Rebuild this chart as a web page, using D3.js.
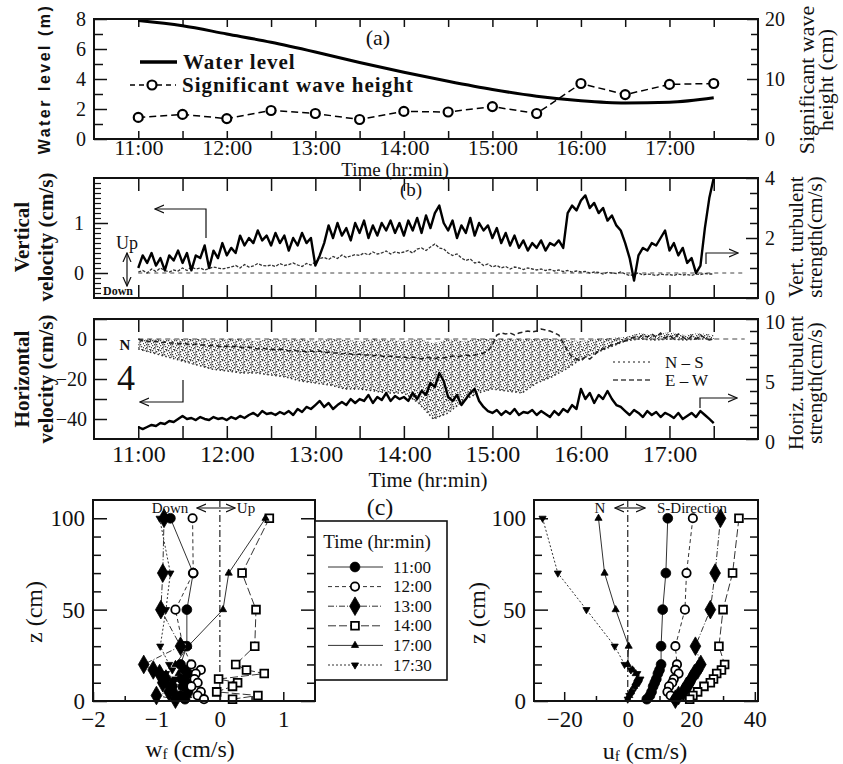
<!DOCTYPE html>
<html><head><meta charset="utf-8">
<script src="https://cdn.jsdelivr.net/npm/d3@7"></script>
<style>
body{margin:0;background:#fff;}
</style></head><body>
<svg id="chart" width="843" height="764" xmlns="http://www.w3.org/2000/svg"></svg>
<script>
// ================= DATA =================
const halfHourTicks = [11,11.5,12,12.5,13,13.5,14,14.5,15,15.5,16,16.5,17,17.5];
const hourTicks = [11,12,13,14,15,16,17];
const hourLabels = ["11:00","12:00","13:00","14:00","15:00","16:00","17:00"];

// panel (a)
const waveTimes = [11,11.5,12,12.5,13,13.5,14,14.5,15,15.5,16,16.5,17,17.5];
const waterLevel = [7.9,7.55,7.0,6.45,5.8,5.1,4.45,3.85,3.3,2.85,2.55,2.4,2.45,2.75];
const waveHeight = [3.6,4.1,3.4,4.75,4.25,3.25,4.6,4.5,5.4,4.25,9.25,7.4,9.1,9.25];

// time series sampled every 3 minutes starting 11:00
const seriesStart = 11;
const seriesStepMin = 3;

// panel (b): vertical turbulent strength (cm/s, right axis)
const vertTurb = [
 1.0,1.42,1.17,1.5,1.08,1.33,0.92,1.42,1.25,1.58,
 1.17,1.5,0.92,1.42,1.33,1.75,1.0,1.58,1.33,1.83,
 1.42,1.67,1.5,2.08,1.75,2.0,1.83,2.25,1.92,2.08,
 1.75,2.17,1.83,2.08,1.58,2.0,1.75,2.17,1.83,2.0,
 1.08,1.42,1.83,2.42,2.0,2.5,2.08,2.33,1.92,2.5,
 2.17,2.58,2.0,2.42,2.08,2.5,2.25,2.58,2.17,2.5,
 2.08,2.58,2.25,2.67,2.17,2.75,2.33,2.83,3.08,2.5,
 2.25,2.58,2.0,2.42,2.17,2.67,2.08,2.5,2.25,2.42,
 2.0,2.33,1.83,2.17,1.75,2.08,1.67,1.92,1.58,1.83,
 1.67,1.92,1.58,1.83,1.75,1.92,1.67,2.83,3.08,2.92,
 3.25,3.42,3.0,3.17,2.83,3.0,2.58,2.75,2.42,2.25,
 1.83,1.33,0.58,1.42,1.67,1.58,1.83,1.75,2.0,2.25,
 1.58,1.83,1.42,1.67,1.17,1.33,0.83,1.08,2.33,3.33,
 4.0];
// panel (b): vertical velocity (cm/s, left axis)
const vertVel = [
 0.02,0.05,0.0,0.08,0.03,0.1,0.05,0.02,0.06,0.04,
 0.1,0.05,0.12,0.08,0.1,0.06,0.09,0.12,0.1,0.08,
 0.1,0.12,0.15,0.1,0.17,0.12,0.14,0.19,0.15,0.14,
 0.16,0.13,0.19,0.15,0.17,0.2,0.16,0.13,0.19,0.16,
 0.22,0.29,0.31,0.27,0.33,0.29,0.36,0.31,0.34,0.37,
 0.35,0.4,0.36,0.42,0.38,0.4,0.44,0.38,0.42,0.4,
 0.42,0.45,0.4,0.48,0.5,0.45,0.52,0.58,0.5,0.48,
 0.4,0.35,0.38,0.3,0.25,0.28,0.2,0.22,0.15,0.18,
 0.12,0.15,0.1,0.13,0.08,0.12,0.1,0.07,0.1,0.08,
 0.06,0.08,0.05,0.07,0.04,0.06,0.03,0.05,0.02,0.04,
 0.02,0.03,0.0,0.02,0.01,-0.02,0.01,0.0,-0.01,0.02,
 -0.02,-0.05,-0.03,0.0,-0.04,-0.02,-0.03,-0.05,-0.02,-0.04,
 -0.03,-0.05,-0.02,-0.04,-0.03,-0.05,-0.02,-0.03,-0.01,-0.02,
 -0.02];
// panel (horizontal): horizontal turbulent strength (cm/s, right axis)
const horizTurb = [
 1.0,0.83,1.0,1.17,1.08,1.33,1.25,1.5,1.42,1.67,
 1.92,1.67,1.75,1.58,1.83,1.67,1.58,1.83,1.67,1.75,
 1.58,1.83,1.67,1.92,1.75,2.0,2.17,1.92,2.33,2.08,
 2.17,2.0,2.25,2.08,2.33,2.0,2.5,2.25,2.67,2.5,
 2.83,3.17,2.67,3.0,2.5,2.83,3.08,2.83,3.33,3.0,
 3.33,3.17,3.67,3.0,3.5,3.25,3.83,3.17,3.58,3.33,
 3.5,3.17,3.83,3.33,4.0,3.67,4.67,4.33,5.5,4.83,
 3.5,3.17,3.67,2.83,3.33,3.83,4.17,3.17,2.67,2.33,
 2.17,2.42,2.0,2.33,2.08,2.5,2.0,2.25,2.17,2.42,
 2.0,2.33,2.08,1.83,2.33,2.0,2.5,2.25,2.83,2.5,
 4.17,3.33,3.83,3.0,3.67,3.33,4.0,3.33,2.83,2.67,
 2.33,2.0,2.42,2.17,1.83,2.33,2.0,2.25,1.83,2.17,
 2.0,1.75,2.17,1.67,1.92,2.17,1.83,2.33,2.0,1.67,
 1.33];
// E-W velocity (cm/s, left axis)
const ewVel = [
 0,-1,-1,-1.5,-1,-2,-1.5,-2,-2,-2.5,
 -2,-2.5,-3,-2.5,-3,-3,-3.5,-3,-3.5,-4,
 -3.5,-4,-3.5,-4,-4.5,-4,-4.5,-5,-4.5,-5,
 -5,-5.5,-5,-5.5,-6,-5.5,-6,-6,-6.5,-6,
 -6.5,-6,-7,-6.5,-7,-7,-7.5,-7,-7.5,-8,
 -7.5,-8,-8,-8.5,-8,-8.5,-9,-8.5,-9,-9,
 -9,-9.5,-9,-9.5,-10,-9,-9.5,-10,-9,-9.5,
 -9,-8.5,-9,-8.5,-8,-8.5,-8,-7.5,-7,-6,
 -3,2,3,2.5,3,2,3,3.5,4,3.5,
 4,5,4.5,4,3,2,-2,-6,-9,-10,
 -11,-9,-10,-8,-6,-5,-4,-3,-2.5,-1.5,
 -1,0,1,0.5,2,1,2.5,1,3,0.5,
 2,0,2.5,1,-0.5,1.5,0,2,0.5,-0.5,
 0];
// N-S velocity range (cm/s) every 10 minutes from 11:00
const nsStepMin = 10;
const nsUpper = [0,0,-0.5,0,0,-0.5,0,0,-1,0,-0.5,0,-1,0,-0.5,-1,0,-0.5,-1,0,-2,0,-1,0,0,0,0,0,0,-0.5,-1,0,0.5,1,3,2,3.5,2,3,2];
const nsLower = [-5,-7,-9,-11,-13,-15,-16,-17,-17,-18,-19,-21,-22,-23,-25,-25,-26,-27,-27,-32,-40,-37,-31,-27,-25,-26,-27,-22,-19,-15,-10,-7,-4,-1,0,-0.5,0,-0.5,0,0];

// panel (c): profiles
const zLevels = [100,70,50,30,20,17,15,12,10,8,5,3,1];
const profileTimes = ["11:00","12:00","13:00","14:00","17:00","17:30"];
const wf1100 = [-0.78,-0.42,-0.52,-0.52,-0.62,-0.55,-0.5,-0.6,-0.52,-0.58,-0.5,-0.62,-0.55];
const wf1200 = [-0.43,-0.42,-0.70,-0.58,-0.45,-0.3,-0.38,-0.4,-0.35,-0.45,-0.3,-0.35,-0.25];
const wf1300 = [-0.88,-0.9,-0.93,-0.62,-1.2,-1.05,-0.95,-0.85,-0.9,-0.75,-0.8,-1.0,-0.7];
const wf1400 = [0.78,0.35,0.57,0.55,0.25,0.42,0.7,-0.02,0.28,0.2,-0.05,0.6,0.2];
const wf1700 = [0.72,0.14,0.05,-0.5,-0.7,-0.6,-0.65,-0.55,-0.75,-0.6,-0.7,-0.5,-0.6];
const wf1730 = [-0.95,-0.78,-0.85,-0.94,-0.8,-0.75,-0.85,-0.7,-0.9,-0.8,-0.75,-0.65,-0.7];
const uf1100 = [12.6,12,11,10.5,10.5,10,9.5,9,8.5,8,7.5,7,6];
const uf1200 = [20.5,18.5,18,15,15.5,15,16,14.5,14,13,12.5,13.5,15];
const uf1300 = [29.2,27.5,26,21.3,23,22,21,20,19.5,18.5,17.5,16,15];
const uf1400 = [35,33,30,28.7,30.5,29.5,28,27,26,24,22,20.5,19.5];
const uf1700 = [-9.2,-7.3,-3.8,0.3,0,1.5,2.5,3,2.5,2,1,0.5,0];
const uf1730 = [-26.8,-22,-13,-4.1,-1,1,3,4,3.5,2.5,1.5,0.5,0];

// ================= DRAWING =================
const FONT = "'Liberation Serif','Times New Roman',serif";
const INK = "#111";
const svg = d3.select("#chart");
const defs = svg.append("defs");
defs.append("marker").attr("id","arr").attr("viewBox","0 0 10 10").attr("refX",9).attr("refY",5)
  .attr("markerWidth",10).attr("markerHeight",10).attr("markerUnits","userSpaceOnUse")
  .attr("orient","auto-start-reverse")
  .append("path").attr("d","M0,1 L9,5 L0,9").attr("fill","none").attr("stroke",INK).attr("stroke-width",1.2);
const pat = defs.append("pattern").attr("id","stip").attr("width",8).attr("height",10).attr("patternUnits","userSpaceOnUse");
[[0,0],[4,1],[7,3],[2,4],[5,6],[1,8],[6,9],[3,2],[7,7],[0,5],[4,4],[6,0],[2,7],[5,9],[1,2],[3,6]].forEach(p=>
  pat.append("rect").attr("x",p[0]).attr("y",p[1]).attr("width",1.3).attr("height",1.3).attr("fill","#444"));
pat.append("rect").attr("x",3).attr("y",0).attr("width",0.8).attr("height",10).attr("fill","#999");

function tickAxis(gen, tx, ty, values, size, w) {
  svg.append("g").attr("transform",`translate(${tx},${ty})`)
    .call(gen.tickValues(values).tickSize(-size).tickFormat(""))
    .call(g=>g.select(".domain").remove())
    .call(g=>g.selectAll("line").attr("stroke",INK).attr("stroke-width",w||1.5));
}
function labelAxis(gen, tx, ty, values, labels, pad, fs) {
  const g = svg.append("g").attr("transform",`translate(${tx},${ty})`)
    .call(gen.tickValues(values).tickSize(0).tickPadding(pad).tickFormat(d=>labels[values.indexOf(d)]));
  g.select(".domain").remove();
  g.selectAll("text").attr("font-family",FONT).attr("font-size",fs).attr("fill",INK);
  return g;
}
function frame(x0,y0,x1,y1){
  svg.append("rect").attr("x",x0).attr("y",y0).attr("width",x1-x0).attr("height",y1-y0)
    .attr("fill","none").attr("stroke",INK).attr("stroke-width",2);
}
function txt(x,y,s,o){
  o=o||{};
  const t=svg.append("text").attr("x",x).attr("y",y).text(s)
    .attr("font-family",o.family||FONT).attr("font-size",o.size||20).attr("fill",INK)
    .attr("text-anchor",o.anchor||"middle").attr("dominant-baseline","central");
  if(o.weight) t.attr("font-weight",o.weight);
  if(o.rotate) t.attr("transform",`rotate(-90,${x},${y})`);
  if(o.ls) t.attr("letter-spacing",o.ls);
  return t;
}
function arrowPath(d){
  svg.append("path").attr("d",d).attr("fill","none").attr("stroke",INK).attr("stroke-width",1.2).attr("marker-end","url(#arr)");
}
const seriesT = i => seriesStart + i*seriesStepMin/60;

const X0=94, X1=758;
const xT = d3.scaleLinear([10.5,18],[X0,X1]);

// ---------- panel (a) ----------
const A={t:19,b:139};
const yA = d3.scaleLinear([0,8],[A.b,A.t]);
const yA2 = d3.scaleLinear([0,20],[A.b,A.t]);
tickAxis(d3.axisBottom(xT),0,A.b,halfHourTicks,8);
tickAxis(d3.axisTop(xT),0,A.t,halfHourTicks,8);
tickAxis(d3.axisLeft(yA),X0,0,[0,2,4,6,8],13);
tickAxis(d3.axisLeft(yA),X0,0,[1,3,5,7],9);
tickAxis(d3.axisRight(yA2),X1,0,[0,10,20],11);
tickAxis(d3.axisRight(yA2),X1,0,[2.5,5,7.5,12.5,15,17.5],7);
labelAxis(d3.axisBottom(xT),0,A.b,hourTicks,hourLabels,0,22);
labelAxis(d3.axisLeft(yA),X0,0,[0,2,4,6,8],["0","2","4","6","8"],8,20);
labelAxis(d3.axisRight(yA2),X1,0,[0,10,20],["0","10","20"],7,20);
svg.append("path").datum(waveTimes.map((t,i)=>[t,waterLevel[i]]))
  .attr("d",d3.line().x(d=>xT(d[0])).y(d=>yA(d[1])).curve(d3.curveMonotoneX))
  .attr("fill","none").attr("stroke","#000").attr("stroke-width",3);
svg.append("path").datum(waveTimes.map((t,i)=>[t,waveHeight[i]]))
  .attr("d",d3.line().x(d=>xT(d[0])).y(d=>yA2(d[1])))
  .attr("fill","none").attr("stroke","#000").attr("stroke-width",1.5).attr("stroke-dasharray","7,4");
svg.append("g").selectAll("circle").data(waveTimes).join("circle")
  .attr("cx",d=>xT(d)).attr("cy",(d,i)=>yA2(waveHeight[i])).attr("r",4.5)
  .attr("fill","#fff").attr("stroke","#000").attr("stroke-width",2.2);
frame(X0,A.t,X1,A.b);
// legend (a)
svg.append("line").attr("x1",140).attr("x2",177).attr("y1",62).attr("y2",62).attr("stroke","#000").attr("stroke-width",3.5);
txt(183,62,"Water level",{anchor:"start",size:21,weight:"bold",ls:1});
svg.append("line").attr("x1",130).attr("x2",176).attr("y1",85).attr("y2",85).attr("stroke","#000").attr("stroke-width",1.5).attr("stroke-dasharray","5,4");
svg.append("circle").attr("cx",152).attr("cy",85).attr("r",4.5).attr("fill","#fff").attr("stroke","#000").attr("stroke-width",2.2);
txt(182,85,"Significant wave height",{anchor:"start",size:21,weight:"bold",ls:1});
txt(378,37,"(a)",{size:22});
txt(395,169,"Time (hr:min)",{size:19});
txt(44,79,"Water level (m)",{family:"'Liberation Sans',Arial,sans-serif",size:16,weight:"bold",rotate:true,ls:2.5});
txt(806,80,"Significant wave",{size:22,rotate:true});
txt(825,80,"height (cm)",{size:22,rotate:true});

// ---------- panel (b) ----------
const B={t:178,b:298};
const yB = d3.scaleLinear([-0.5,1.9],[B.b,B.t]);
const yB2 = d3.scaleLinear([0,4],[B.b,B.t]);
tickAxis(d3.axisBottom(xT),0,B.b,halfHourTicks,13);
tickAxis(d3.axisTop(xT),0,B.t,halfHourTicks,13);
tickAxis(d3.axisLeft(yB),X0,0,d3.range(-4,19).map(d=>d/10).filter(d=>d!==0&&d!==1),7,1.2);
tickAxis(d3.axisLeft(yB),X0,0,[0,1],14);
tickAxis(d3.axisRight(yB2),X1,0,[0,2,4],12);
tickAxis(d3.axisRight(yB2),X1,0,[0.5,1,1.5,2.5,3,3.5],8);
labelAxis(d3.axisLeft(yB),X0,0,[0,1],["0","1"],10,20);
labelAxis(d3.axisRight(yB2),X1,0,[0,2,4],["0","2","4"],7,20);
svg.append("line").attr("x1",xT(11)).attr("x2",xT(17.85)).attr("y1",yB(0)).attr("y2",yB(0))
  .attr("stroke","#444").attr("stroke-width",1).attr("stroke-dasharray","4,4");
svg.append("path").datum(vertVel)
  .attr("d",d3.line().x((d,i)=>xT(seriesT(i))).y(d=>yB(d)))
  .attr("fill","none").attr("stroke","#333").attr("stroke-width",1.3).attr("stroke-dasharray","3,1.5");
svg.append("path").datum(vertTurb)
  .attr("d",d3.line().x((d,i)=>xT(seriesT(i))).y(d=>yB2(d)))
  .attr("fill","none").attr("stroke","#000").attr("stroke-width",2.4).attr("stroke-linejoin","round");
frame(X0,B.t,X1,B.b);
txt(411,189,"(b)",{size:19});
arrowPath("M206,238 V209 H155");
arrowPath("M706,264 V253 H738");
txt(127,243,"Up",{size:18});
svg.append("line").attr("x1",127).attr("x2",127).attr("y1",253).attr("y2",286).attr("stroke",INK).attr("stroke-width",1.2)
  .attr("marker-start","url(#arr)").attr("marker-end","url(#arr)");
txt(103,291,"Down",{size:12,anchor:"start",weight:"bold"});
txt(22,237,"Vertical",{size:21,weight:"bold",rotate:true});
txt(46,237,"velocity (cm/s)",{size:21,weight:"bold",rotate:true});
txt(796,237,"Vert. turbulent",{size:21,rotate:true});
txt(815,237,"strength(cm/s)",{size:21,rotate:true});

// ---------- panel (horizontal) ----------
const H={t:319,b:439};
const yH = d3.scaleLinear([-50,10],[H.b,H.t]);
const yH2 = d3.scaleLinear([0,10],[H.b,H.t]);
tickAxis(d3.axisBottom(xT),0,H.b,halfHourTicks,13);
tickAxis(d3.axisTop(xT),0,H.t,halfHourTicks,13);
tickAxis(d3.axisLeft(yH),X0,0,[10,0,-10,-20,-30,-40],13);
tickAxis(d3.axisRight(yH2),X1,0,[0,5,10],12);
tickAxis(d3.axisRight(yH2),X1,0,[1,2,3,4,6,7,8,9],8);
labelAxis(d3.axisBottom(xT),0,H.b,hourTicks,hourLabels,6,24);
labelAxis(d3.axisLeft(yH),X0,0,[0,-20,-40],["0","\u221220","\u221240"],7,20);
labelAxis(d3.axisRight(yH2),X1,0,[0,5,10],["0","5","10"],7,20).selectAll("text").attr("dy","0.45em");
const nsT = i => seriesStart + i*nsStepMin/60;
svg.append("path").datum(nsUpper)
  .attr("d",d3.area().x((d,i)=>xT(nsT(i))).y0((d,i)=>yH(nsLower[i])).y1(d=>yH(d)))
  .attr("fill","url(#stip)").attr("stroke","none");
svg.append("path").datum(nsLower)
  .attr("d",d3.line().x((d,i)=>xT(nsT(i))).y(d=>yH(d)))
  .attr("fill","none").attr("stroke","#333").attr("stroke-width",1.5).attr("stroke-dasharray","1.5,2.5");
svg.append("line").attr("x1",xT(11)).attr("x2",xT(17.85)).attr("y1",yH(0)).attr("y2",yH(0))
  .attr("stroke","#444").attr("stroke-width",1).attr("stroke-dasharray","5,4");
svg.append("path").datum(ewVel)
  .attr("d",d3.line().x((d,i)=>xT(seriesT(i))).y(d=>yH(d)))
  .attr("fill","none").attr("stroke","#222").attr("stroke-width",1.5).attr("stroke-dasharray","5,3");
svg.append("path").datum(horizTurb)
  .attr("d",d3.line().x((d,i)=>xT(seriesT(i))).y(d=>yH2(d)))
  .attr("fill","none").attr("stroke","#000").attr("stroke-width",2.4).attr("stroke-linejoin","round");
frame(X0,H.t,X1,H.b);
svg.append("line").attr("x1",613).attr("x2",653).attr("y1",362).attr("y2",362).attr("stroke","#666").attr("stroke-width",1.5).attr("stroke-dasharray","2,3");
svg.append("line").attr("x1",613).attr("x2",653).attr("y1",380).attr("y2",380).attr("stroke","#444").attr("stroke-width",1.5).attr("stroke-dasharray","5,3");
txt(665,362,"N \u2013 S",{size:17,anchor:"start"});
txt(665,380,"E \u2013 W",{size:17,anchor:"start"});
arrowPath("M183,380 V402 H140");
arrowPath("M700,408 V398 H737");
txt(125,345,"N",{size:15,weight:"bold"});
txt(126,378,"4",{size:36});
txt(428,480,"Time (hr:min)",{size:21});
txt(22,379,"Horizontal",{size:21,weight:"bold",rotate:true});
txt(46,379,"velocity (cm/s)",{size:21,weight:"bold",rotate:true});
txt(796,383,"Horiz. turbulent",{size:21,rotate:true});
txt(815,383,"strength(cm/s)",{size:21,rotate:true});

// ---------- panel (c) ----------
const C={t:500,b:701};
const yC = d3.scaleLinear([0,110],[C.b,C.t]);
const xL = d3.scaleLinear([-2,1.5],[93,315]);
const xR = d3.scaleLinear([-29.5,41],[534,758]);
const styles = [
  {sym:d3.symbolCircle,size:75,fill:"#000",dash:null,rot:0},
  {sym:d3.symbolCircle,size:55,fill:"#fff",dash:"4,3",rot:0},
  {sym:d3.symbolDiamond,size:100,fill:"#000",dash:"6,2,1,2",rot:0},
  {sym:d3.symbolSquare,size:60,fill:"#fff",dash:"8,3",rot:0},
  {sym:d3.symbolTriangle,size:22,fill:"#000",dash:null,rot:0},
  {sym:d3.symbolTriangle,size:22,fill:"#000",dash:"2,2",rot:180}
];
function profilePlot(x, series, x0, x1, xt, xtl, minor){
  tickAxis(d3.axisLeft(yC),x0,0,[0,50,100],14);
  tickAxis(d3.axisLeft(yC),x0,0,[10,20,30,40,60,70,80,90],8);
  tickAxis(d3.axisRight(yC),x1,0,[0,50,100],14);
  tickAxis(d3.axisRight(yC),x1,0,[10,20,30,40,60,70,80,90],8);
  tickAxis(d3.axisBottom(x),0,C.b,xt,9);
  tickAxis(d3.axisBottom(x),0,C.b,minor,5);
  labelAxis(d3.axisLeft(yC),x0,0,[0,50,100],["0","50","100"],8,23);
  labelAxis(d3.axisBottom(x),0,C.b,xt,xtl,10,23);
  svg.append("line").attr("x1",x(0)).attr("x2",x(0)).attr("y1",C.t).attr("y2",C.b)
    .attr("stroke","#333").attr("stroke-width",1.3).attr("stroke-dasharray","7,3,2,3");
  series.forEach((vals,k)=>{
    const st=styles[k];
    svg.append("path").datum(vals)
      .attr("d",d3.line().x(d=>x(d)).y((d,i)=>yC(zLevels[i])))
      .attr("fill","none").attr("stroke","#333").attr("stroke-width",1).attr("stroke-dasharray",st.dash);
  });
  series.forEach((vals,k)=>{
    const st=styles[k];
    svg.append("g").selectAll("path").data(vals).join("path")
      .attr("d",d3.symbol(st.sym,st.size))
      .attr("transform",(d,i)=>`translate(${x(d)},${yC(zLevels[i])}) rotate(${st.rot})`)
      .attr("fill",st.fill).attr("stroke","#000").attr("stroke-width",st.fill==="#fff"?1.8:0.8);
  });
  frame(x0,C.t,x1,C.b);
}
profilePlot(xL,[wf1100,wf1200,wf1300,wf1400,wf1700,wf1730],93,315,[-2,-1,0,1],["\u22122","\u22121","0","1"],[-1.5,-0.5,0.5]);
profilePlot(xR,[uf1100,uf1200,uf1300,uf1400,uf1700,uf1730],534,758,[-20,0,20,40],["\u221220","0","20","40"],[-10,10,30]);
txt(380,507,"(c)",{size:24});
// axis titles
const wt = svg.append("text").attr("x",190).attr("y",749).attr("text-anchor","middle").attr("dominant-baseline","central")
  .attr("font-family",FONT).attr("font-size",24).attr("fill",INK);
wt.append("tspan").text("w");
wt.append("tspan").attr("dy",5).attr("font-size",15).text("f");
wt.append("tspan").attr("dy",-5).text(" (cm/s)");
const ut = svg.append("text").attr("x",645).attr("y",751).attr("text-anchor","middle").attr("dominant-baseline","central")
  .attr("font-family",FONT).attr("font-size",24).attr("fill",INK);
ut.append("tspan").text("u");
ut.append("tspan").attr("dy",5).attr("font-size",15).text("f");
ut.append("tspan").attr("dy",-5).text(" (cm/s)");
txt(34,612,"z (cm)",{size:24,rotate:true});
txt(477,613,"z (cm)",{size:24,rotate:true});
// top annotations
txt(170,508,"Down",{size:15});
svg.append("line").attr("x1",197).attr("x2",235).attr("y1",508).attr("y2",508).attr("stroke",INK).attr("stroke-width",1.1)
  .attr("marker-start","url(#arr)").attr("marker-end","url(#arr)");
txt(246,508,"Up",{size:15});
txt(600,508,"N",{size:15});
svg.append("line").attr("x1",615).attr("x2",645).attr("y1",508).attr("y2",508).attr("stroke",INK).attr("stroke-width",1.1)
  .attr("marker-start","url(#arr)").attr("marker-end","url(#arr)");
txt(657,508,"S-Direction",{size:15,anchor:"start"});
// legend box
svg.append("rect").attr("x",315).attr("y",521).attr("width",132).attr("height",159)
  .attr("fill","#fff").attr("stroke",INK).attr("stroke-width",1.6);
txt(377,541,"Time (hr:min)",{size:19});
profileTimes.forEach((lab,k)=>{
  const st=styles[k], y=567+k*19.6;
  svg.append("line").attr("x1",328).attr("x2",383).attr("y1",y).attr("y2",y)
    .attr("stroke","#333").attr("stroke-width",1).attr("stroke-dasharray",st.dash);
  svg.append("path").attr("d",d3.symbol(st.sym,st.size)())
    .attr("transform",`translate(355,${y}) rotate(${st.rot})`)
    .attr("fill",st.fill).attr("stroke","#000").attr("stroke-width",st.fill==="#fff"?1.8:0.8);
  txt(393,y,lab,{size:17,anchor:"start"});
});
</script>
</body></html>
